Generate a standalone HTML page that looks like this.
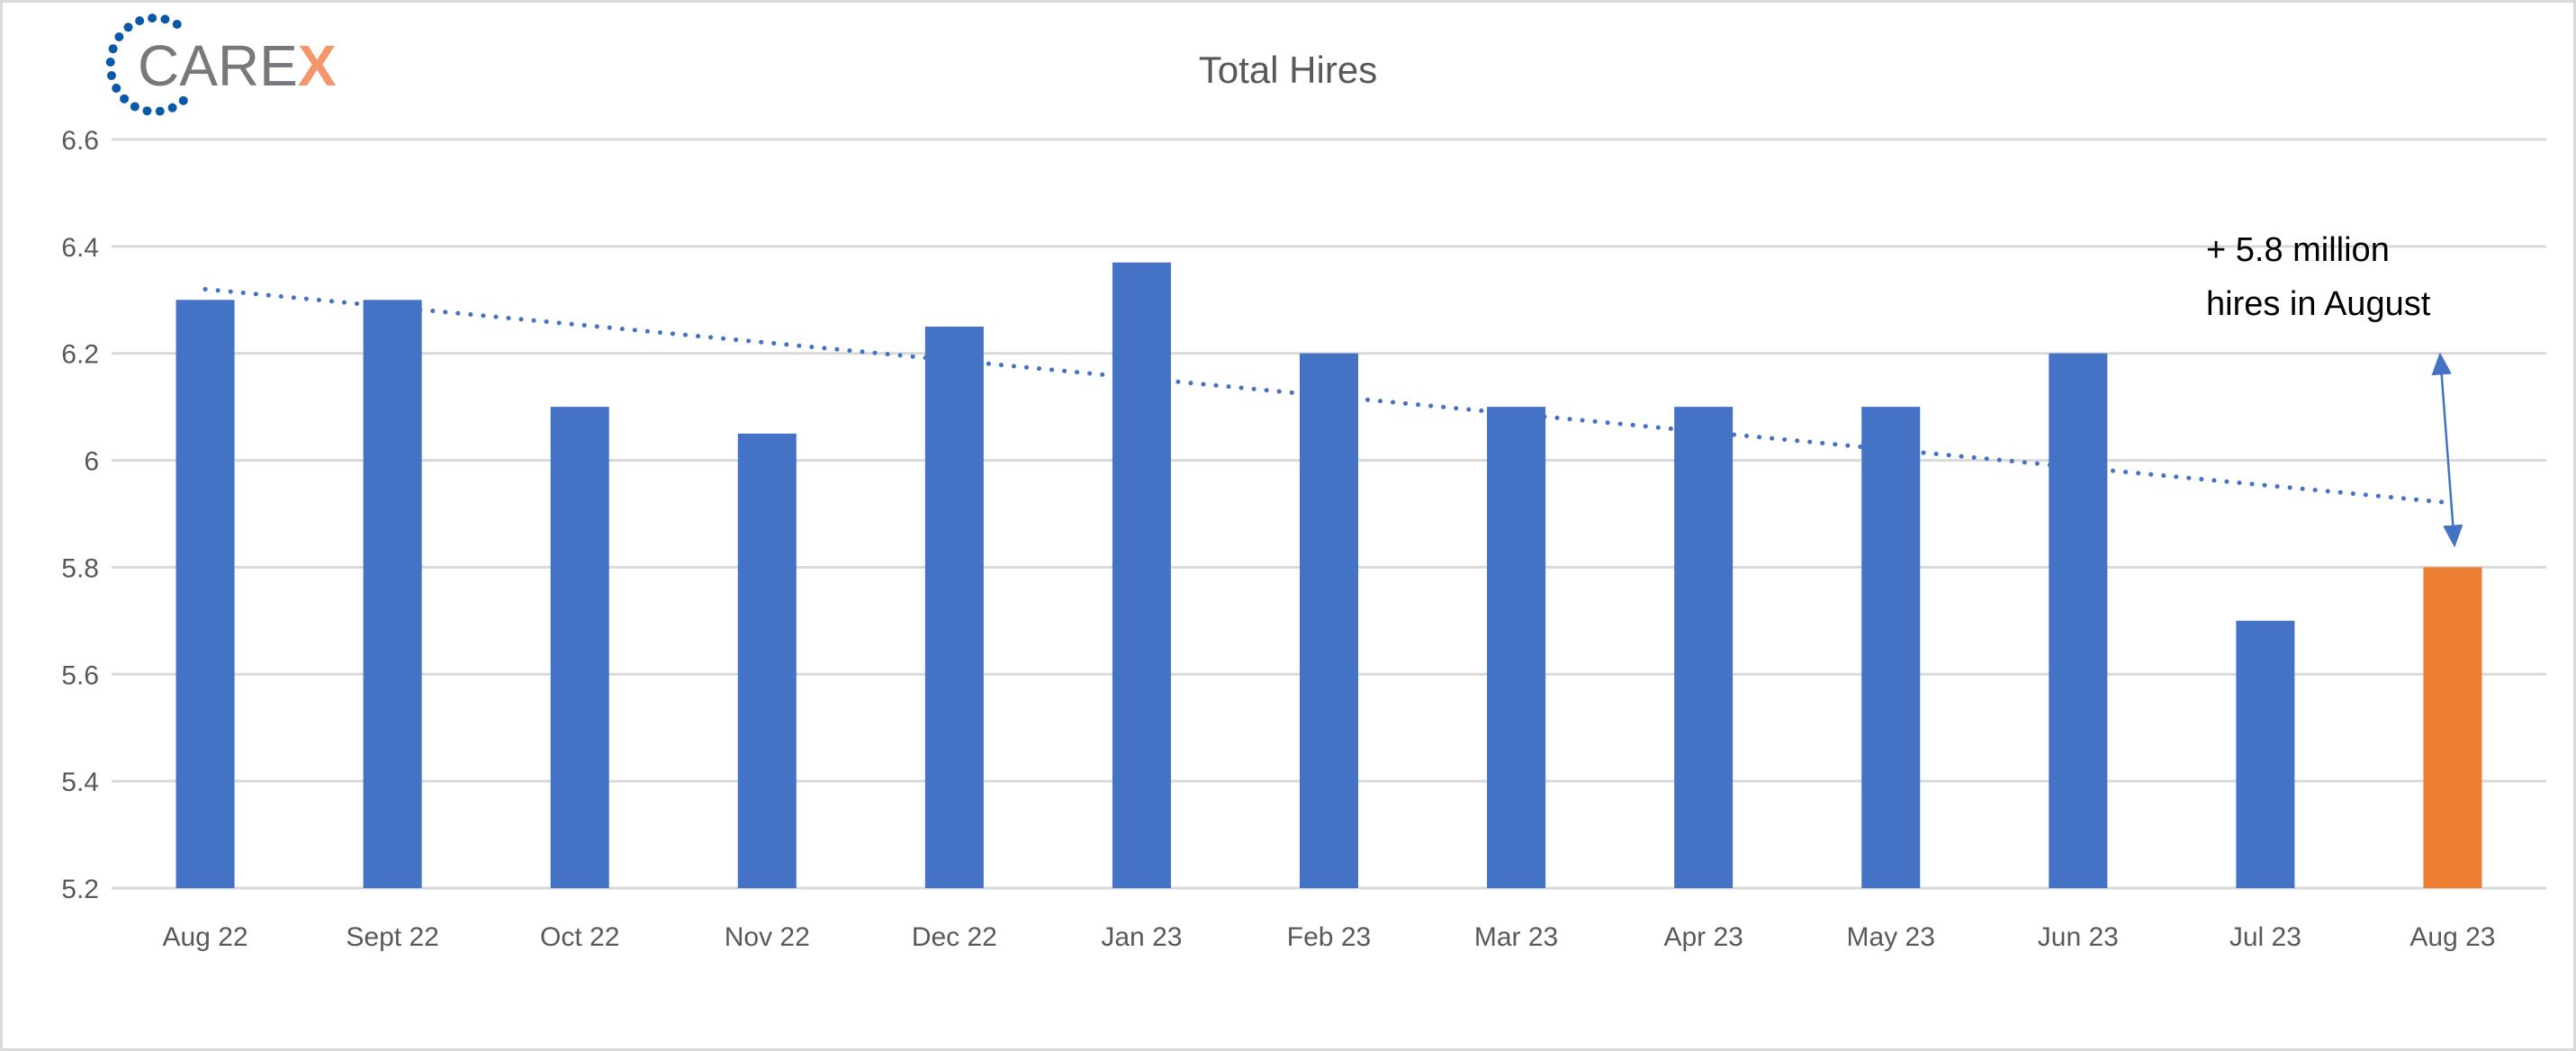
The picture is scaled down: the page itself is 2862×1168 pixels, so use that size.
<!DOCTYPE html>
<html><head><meta charset="utf-8"><style>
html,body{margin:0;padding:0;background:#fff}
svg{display:block}
</style></head><body>
<svg id="chart" width="2862" height="1168" xmlns="http://www.w3.org/2000/svg">
<rect x="1.5" y="1.5" width="2859" height="1165" fill="#fff" stroke="#d9d9d9" stroke-width="3"/>
<g id="logo"></g>
<text x="1431" y="92" text-anchor="middle" font-family="Liberation Sans, sans-serif" font-size="42" fill="#595959">Total Hires</text>
<g id="grid"></g>
<g id="ylab"></g>
<g id="bars"></g>
<g id="xlab"></g>
<g id="trend"></g>
<g id="annot"></g>
</svg>
<script>
const categories=["Aug 22","Sept 22","Oct 22","Nov 22","Dec 22","Jan 23","Feb 23","Mar 23","Apr 23","May 23","Jun 23","Jul 23","Aug 23"];
const values=[6.3,6.3,6.1,6.05,6.25,6.37,6.2,6.1,6.1,6.1,6.2,5.7,5.8];
const highlight=[false,false,false,false,false,false,false,false,false,false,false,false,true];
const yTicks=[5.2,5.4,5.6,5.8,6,6.2,6.4,6.6];
const yTickLabels=["5.2","5.4","5.6","5.8","6","6.2","6.4","6.6"];
const trendStart=6.32, trendEnd=5.92;

const NS="http://www.w3.org/2000/svg";
const L=124,R=2829,T=155,B=987,yMin=5.2,yMax=6.6;
const step=(R-L)/categories.length;
const xC=i=>L+step*(i+0.5);
const y=v=>B-(v-yMin)/(yMax-yMin)*(B-T);
function mk(tag,attrs,parent){const e=document.createElementNS(NS,tag);for(const k in attrs)e.setAttribute(k,attrs[k]);parent.appendChild(e);return e;}
const F="Liberation Sans, sans-serif";

const grid=document.getElementById('grid'),ylab=document.getElementById('ylab');
yTicks.forEach((t,i)=>{
  const l=mk('line',{x1:L,x2:R,y1:y(t),y2:y(t),stroke:'#d9d9d9','stroke-width':3},grid);
  
  
  const tx=mk('text',{x:110,y:y(t)+11,'text-anchor':'end','font-family':F,'font-size':30,fill:'#595959'},ylab);
  tx.textContent=yTickLabels[i];
  
  
});
const bars=document.getElementById('bars'),xlab=document.getElementById('xlab');
const bw=65;
values.forEach((v,i)=>{
  const r=mk('rect',{x:xC(i)-bw/2,y:y(v),width:bw,height:B-y(v),fill:highlight[i]?'#ed7d31':'#4472c4'},bars);
  
  
  const t=mk('text',{x:xC(i),y:1051,'text-anchor':'middle','font-family':F,'font-size':30,fill:'#595959'},xlab);
  t.textContent=categories[i];
  
  
});
const tr=document.getElementById('trend');
const tl=mk('line',{x1:xC(0),y1:y(trendStart),x2:xC(categories.length-1),y2:y(trendEnd),stroke:'#4472c4','stroke-width':5,'stroke-linecap':'round','stroke-dasharray':'0.1 14'},tr);



const an=document.getElementById('annot');
mk('defs',{},an).innerHTML='<marker id="ah" markerWidth="10" markerHeight="10" refX="9" refY="5" orient="auto-start-reverse" markerUnits="strokeWidth"><path d="M0,0.5 L10,5 L0,9.5 z" fill="#4472c4"/></marker>';
const ar=mk('line',{x1:2711,y1:394,x2:2727,y2:606,stroke:'#4472c4','stroke-width':2.5,'marker-start':'url(#ah)','marker-end':'url(#ah)'},an);


[["+ 5.8 million",290],["hires in August",350]].forEach(([s,yy])=>{
  const t=mk('text',{x:2451,y:yy,'font-family':F,'font-size':38,fill:'#000'},an);
  t.textContent=s;
  
  
});

const lg=document.getElementById('logo');
const cx=172,cy=72,rad=52;
for(let k=0;k<16;k++){
  const a=(60+k*(250/15))*Math.PI/180;
  mk('circle',{cx:cx+rad*Math.cos(a)*0.95,cy:cy-rad*Math.sin(a),r:5,fill:'#0a58a8'},lg);
}
const lt=mk('text',{x:153,y:95,'font-family':F,'font-size':64,fill:'#77787b'},lg);
lt.innerHTML='CARE<tspan fill="#f4956a" font-weight="bold">X</tspan>';


</script>
</body></html>
